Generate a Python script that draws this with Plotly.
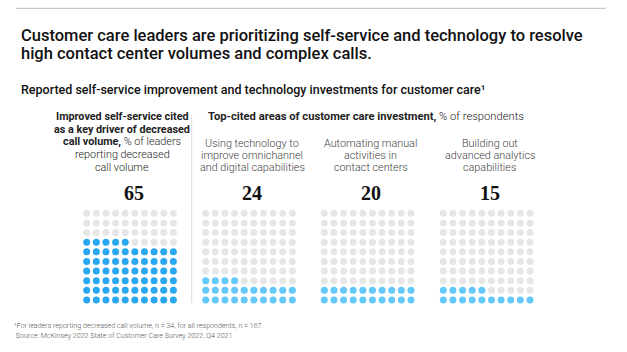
import plotly.graph_objects as go

# ---------------- data ----------------
values = [65, 24, 20, 15]
number_labels = ["65", "24", "20", "15"]
fill_colors = ["#29A8F1", "#63C8FA", "#63C8FA", "#63C8FA"]
empty_color = "#E6E6E6"
sub_labels = [
    None,
    ["Using technology to", "improve omnichannel", "and digital capabilities"],
    ["Automating manual", "activities in", "contact centers"],
    ["Building out", "advanced analytics", "capabilities"],
]
col1_header = [
    "<b>Improved self-service cited</b>",
    "<b>as a key driver of decreased</b>",
    "<b>call volume,</b> % of leaders",
    "reporting decreased",
    "call volume",
]
col2_header = "<b>Top-cited areas of customer care investment,</b> % of respondents"
title_lines = [
    "Customer care leaders are prioritizing self-service and technology to resolve",
    "high contact center volumes and complex calls.",
]
subtitle = "Reported self-service improvement and technology investments for customer care¹"
footer_lines = [
    "¹For leaders reporting decreased call volume, n = 34; for all respondents, n = 167.",
    " Source: McKinsey 2022 State of Customer Care Survey 2022, Q4 2021",
]

# ---------------- layout constants (pixels) ----------------
W, H = 627, 352
PITCH = 9.63
GRID_LEFT = [86.7, 205.7, 324.3, 443.3]   # centre of first dot column
GRID_TOP = 213.3                          # centre of top dot row
SANS = "Roboto"
SERIF = "Liberation Serif"


def px(x):
    return x / W


def py(y):
    return 1 - y / H


fig = go.Figure()
layout_axes = {}
for i, v in enumerate(values):
    xs, ys, cs = [], [], []
    for k in range(100):
        xs.append(k % 10)
        ys.append(k // 10)
        cs.append(fill_colors[i] if k < v else empty_color)
    n = "" if i == 0 else str(i + 1)
    fig.add_trace(go.Scatter(
        x=xs, y=ys, mode="markers",
        marker=dict(size=7, color=cs, line=dict(width=0)),
        xaxis="x" + n, yaxis="y" + n, hoverinfo="skip", showlegend=False,
    ))
    x0 = GRID_LEFT[i] - PITCH / 2
    x1 = x0 + 10 * PITCH
    y0 = GRID_TOP - PITCH / 2
    y1 = y0 + 10 * PITCH
    layout_axes["xaxis" + n] = dict(domain=[px(x0), px(x1)], range=[-0.5, 9.5],
                                    visible=False, fixedrange=True,
                                    anchor="y" + n)
    layout_axes["yaxis" + n] = dict(domain=[py(y1), py(y0)], range=[-0.5, 9.5],
                                    visible=False, fixedrange=True,
                                    anchor="x" + n)

ann = []


def add_text(text, x, y, size, color="#222222", xanchor="center", family=SANS, weight=None):
    f = dict(size=size, color=color, family=family)
    if weight:
        f["weight"] = weight
    ann.append(dict(text=text, x=px(x), y=py(y), xref="paper", yref="paper",
                    xanchor=xanchor, yanchor="middle", showarrow=False, font=f))


# title
add_text(title_lines[0], 19, 35.5, 16.5, "#111111", "left", weight=500)
add_text(title_lines[1], 19, 53.5, 16.5, "#111111", "left", weight=500)
add_text(subtitle, 19, 90, 12.5, "#111111", "left", weight=500)

# column 1 header
for j, t in enumerate(col1_header):
    add_text(t, 122, 116.7 + j * 12.65, 10.8, "#222222", weight=300)
# column 2 header
add_text(col2_header, 206, 116.7, 11.2, "#222222", "left", weight=300)

centers = [g + 4.5 * PITCH for g in GRID_LEFT]
for i in range(4):
    cx = centers[i] + 3
    if sub_labels[i]:
        for j, t in enumerate(sub_labels[i]):
            add_text(t, cx, 143.3 + j * 12, 10.8, "#444444", weight=300)
    add_text("<b>" + number_labels[i] + "</b>", cx + (1 if i == 0 else 0), 193, 20, "#111111",
             family=SERIF)

# footer
add_text(footer_lines[0], 12, 325, 7.1, "#555555", "left", weight=300)
add_text(footer_lines[1], 12, 335, 7.1, "#555555", "left", weight=300)

shapes = [
    dict(type="line", xref="paper", yref="paper", x0=px(16), x1=px(606),
         y0=py(8.3), y1=py(8.3), line=dict(color="#BBBBBB", width=1)),
    dict(type="line", xref="paper", yref="paper", x0=px(191.7), x1=px(191.7),
         y0=py(115), y1=py(303), line=dict(color="#DDDDDD", width=1)),
]

fig.update_layout(
    width=W, height=H, margin=dict(l=0, r=0, t=0, b=0),
    paper_bgcolor="white", plot_bgcolor="white",
    annotations=ann, shapes=shapes, **layout_axes,
)
fig.write_html("out.html", config={"displayModeBar": False})
